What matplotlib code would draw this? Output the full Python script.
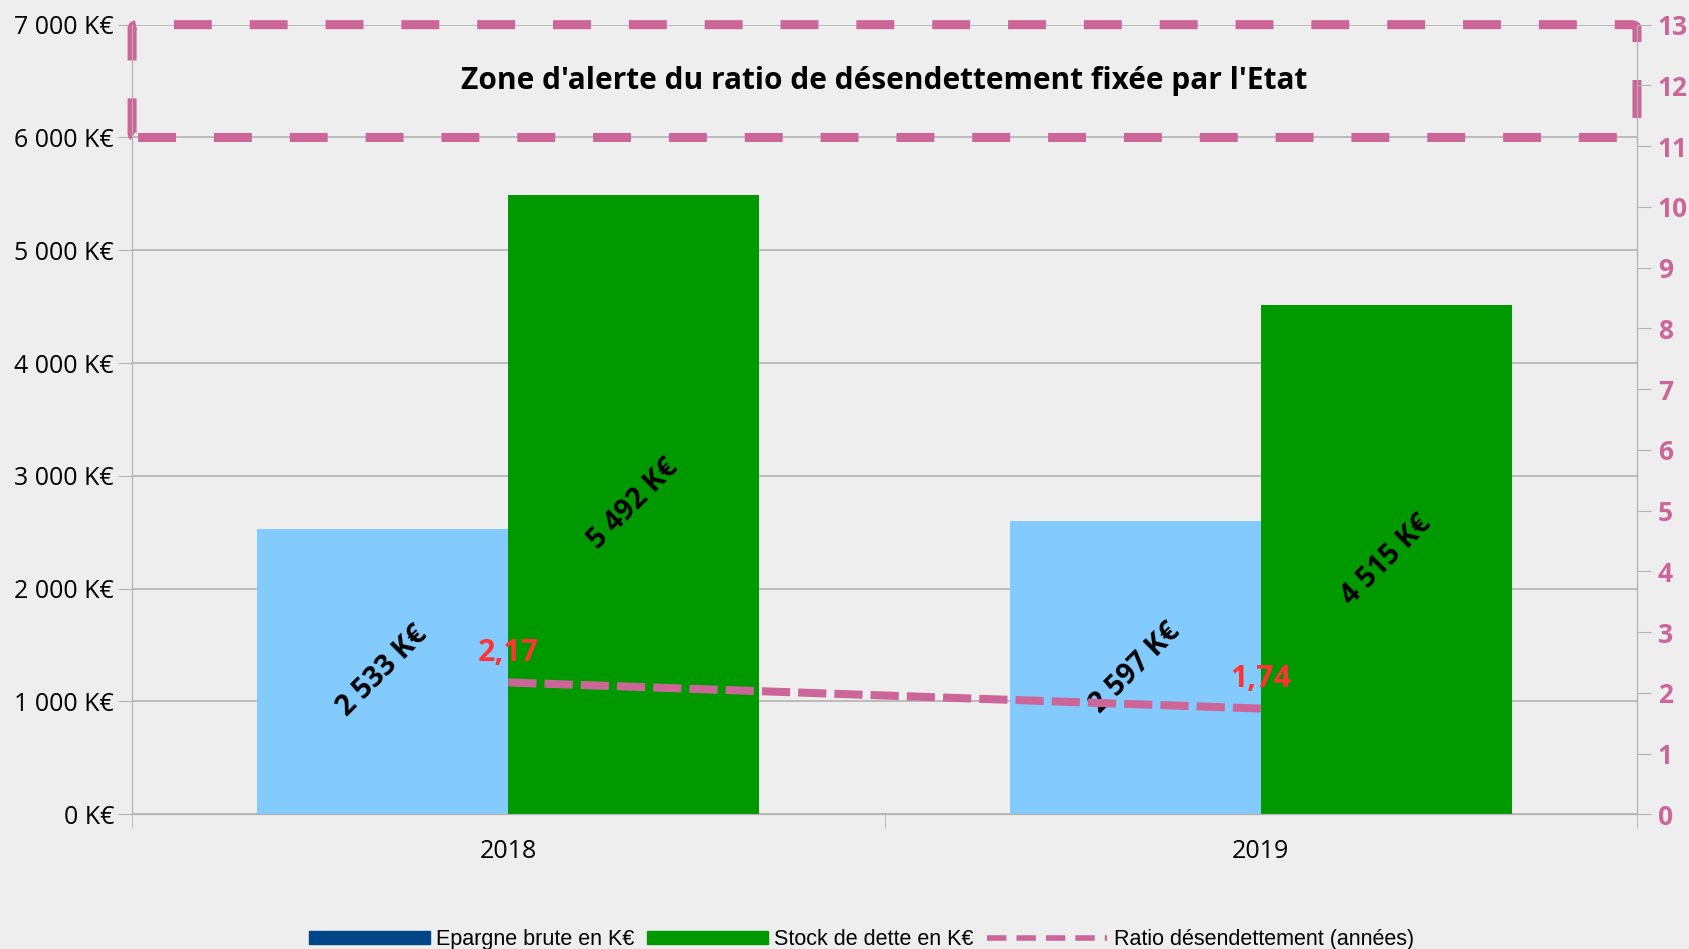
import numpy as np
import matplotlib.pyplot as plt
from matplotlib.patches import FancyBboxPatch
from matplotlib.lines import Line2D
from matplotlib.patches import Patch

years = ["2018", "2019"]
epargne = [2533, 2597]
dette = [5492, 4515]
ratio = [2.17, 1.74]
ratio_labels = ["2,17", "1,74"]
left_ticks = [0, 1000, 2000, 3000, 4000, 5000, 6000, 7000]
right_ticks = list(range(0, 14))
alert_zone = (6000, 7000)

bg = "#eeeeee"
c_blue_bar = "#83caff"
c_blue_leg = "#004586"
c_green = "#009900"
c_pink = "#cc6699"
c_red = "#ff3333"
c_grid = "#b3b3b3"

tick_font = ["Open Sans", "DejaVu Sans"]
legend_font = ["Liberation Sans Narrow", "Liberation Sans", "DejaVu Sans"]


def fmt_k(v):
    return f"{v:,.0f}".replace(",", " ") + " K€"


fig = plt.figure(figsize=(16.89, 9.49), dpi=100, facecolor=bg)
ax = fig.add_axes([0.0782, 0.142, 0.891, 0.832])
ax.set_facecolor(bg)
ax2 = ax.twinx()

x = np.arange(len(years))
w = 1 / 3
ax.bar(x - w / 2, epargne, w, color=c_blue_bar, zorder=2)
ax.bar(x + w / 2, dette, w, color=c_green, zorder=2)

for xi, v in zip(x - w / 2, epargne):
    ax.text(xi, v / 2, fmt_k(v), rotation=45, ha="center", va="center",
            fontsize=20.5, fontweight="bold", family=tick_font, zorder=5)
for xi, v in zip(x + w / 2, dette):
    ax.text(xi, v / 2, fmt_k(v), rotation=45, ha="center", va="center",
            fontsize=20.5, fontweight="bold", family=tick_font, zorder=5)

ax.set_xlim(-0.5, len(years) - 0.5)
ax.set_ylim(0, 7000)
ax.set_yticks(left_ticks)
ax.set_yticklabels([fmt_k(v) for v in left_ticks], family=tick_font, fontsize=18)
ax.grid(axis="y", color=c_grid, lw=1.2, zorder=0)
ax.set_axisbelow(True)
ax.set_xticks(x)
ax.set_xticklabels(years, family=tick_font, fontsize=18)
ax.set_xticks([-0.5, 0.5, 1.5], minor=True)
ax.tick_params(axis="x", which="major", length=0, pad=18)
ax.tick_params(axis="x", which="minor", length=10, color=c_grid)
ax.tick_params(axis="y", length=10, color=c_grid, pad=3)
for s in ["top"]:
    ax.spines[s].set_visible(False)
    ax2.spines[s].set_visible(False)
for s in ["left", "bottom", "right"]:
    ax.spines[s].set_color(c_grid)
    ax2.spines[s].set_color(c_grid)

# ratio line on right axis
ax2.plot(x, ratio, color=c_pink, lw=5.8, dashes=(3.5, 1), zorder=4)
for xi, v, lab in zip(x, ratio, ratio_labels):
    ax2.annotate(lab, (xi, v), xytext=(0, 21), textcoords="offset points",
                 ha="center", va="center", color=c_red, fontsize=22,
                 fontweight="bold", family=tick_font)
ax2.set_ylim(0, 13)
ax2.set_yticks(right_ticks)
ax2.set_yticklabels([str(t) for t in right_ticks], color=c_pink, fontsize=19,
                    fontweight="bold", family=tick_font)
ax2.tick_params(axis="y", length=10, color=c_grid, pad=5)

# alert zone box
box = FancyBboxPatch((-0.5, alert_zone[0]), len(years), alert_zone[1] - alert_zone[0],
                     boxstyle="round,pad=0,rounding_size=0.008", fill=False,
                     edgecolor=c_pink, lw=6.5, linestyle=(0, (4.2, 4.2)),
                     transform=ax.transData, clip_on=False, zorder=6,
                     mutation_aspect=4000)
ax.add_patch(box)
ax.text((len(years) - 1) / 2, sum(alert_zone) / 2,
        "Zone d'alerte du ratio de désendettement fixée par l'Etat",
        ha="center", va="center", fontsize=21.5, fontweight="bold",
        family=tick_font, zorder=7)

handles = [Patch(color=c_blue_leg), Patch(color=c_green),
           Line2D([], [], color=c_pink, lw=4, dashes=(3.5, 1.8))]
labels = ["Epargne brute en K€", "Stock de dette en K€", "Ratio désendettement (années)"]
fig.legend(handles, labels, loc="center", bbox_to_anchor=(0.51, 0.01), ncol=3,
           frameon=False, prop={"family": legend_font, "size": 15.5},
           handlelength=5.6, handleheight=0.6, columnspacing=0.6, handletextpad=0.3)

fig.savefig("out.png", dpi=100, facecolor=bg)
